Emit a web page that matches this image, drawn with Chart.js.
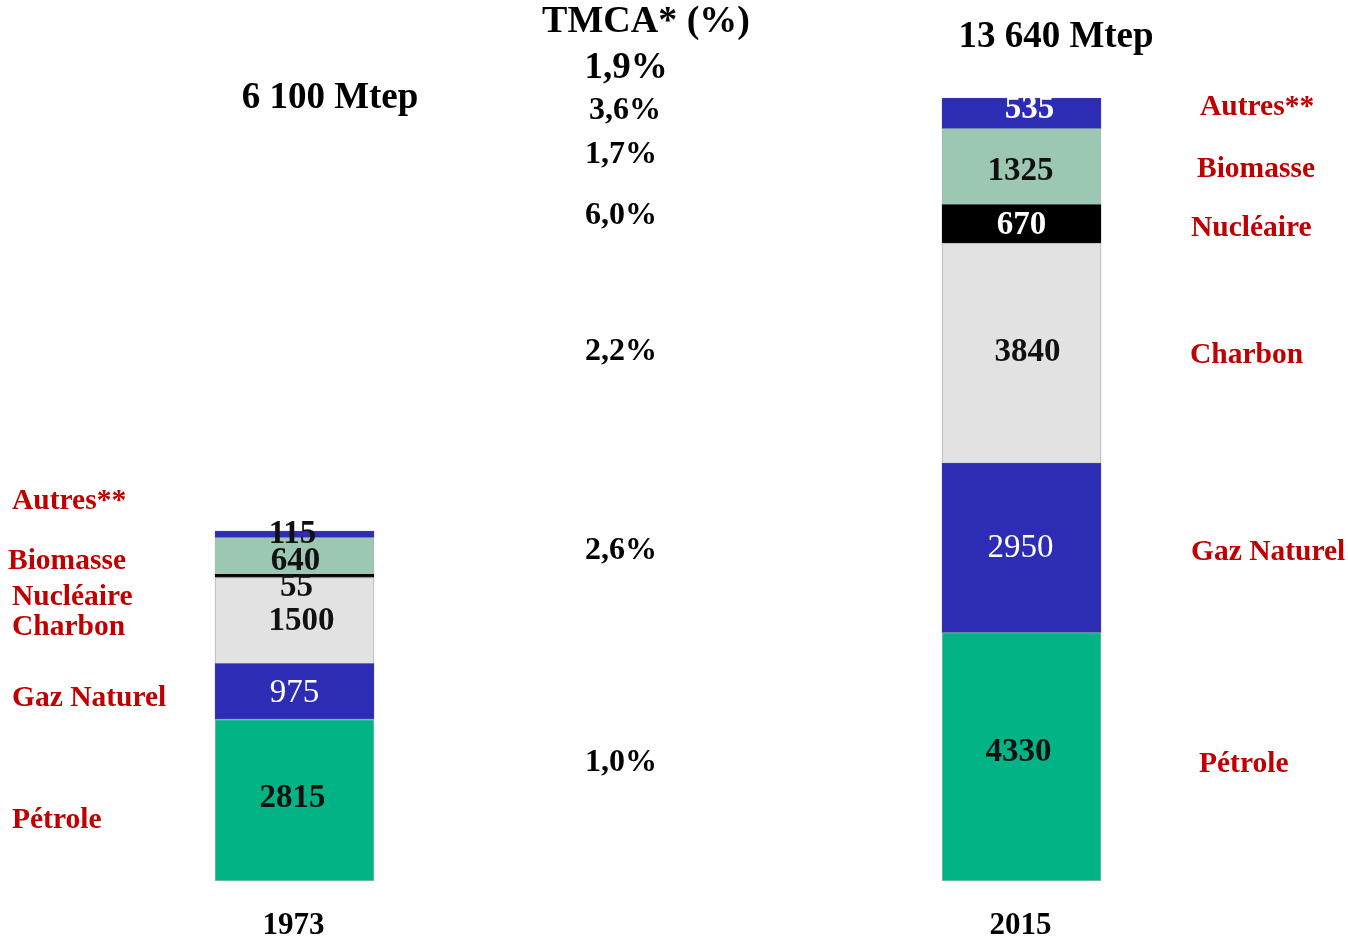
<!DOCTYPE html>
<html lang="fr">
<head>
<meta charset="utf-8">
<title>Consommation mondiale d'énergie primaire 1973 – 2015</title>
<script src="https://cdn.jsdelivr.net/npm/chart.js@4/dist/chart.umd.min.js"></script>
<style>
  html, body { margin: 0; padding: 0; background: #ffffff; }
  #wrap { position: relative; width: 1348px; height: 941px; }
</style>
</head>
<body>
<div id="wrap"><canvas id="chart"></canvas></div>
<script>
// Years (one stacked bar each)
const years = ['1973', '2015'];

// Energy sources, bottom to top of the stack
const sources = ['Pétrole', 'Gaz Naturel', 'Charbon', 'Nucléaire', 'Biomasse', 'Autres**'];

// Consumption in Mtep, per source: [1973, 2015]
const petrole   = [2815, 4330];
const gaz       = [975, 2950];
const charbon   = [1500, 3840];
const nucleaire = [55, 670];
const biomasse  = [640, 1325];
const autres    = [115, 535];

// Totals shown above each bar
const totals = ['6 100 Mtep', '13 640 Mtep'];

// Compound annual growth rate 1973-2015, per source, and overall
const tmcaTitle = 'TMCA* (%)';
const tmcaTotal = '1,9%';
const tmca = ['1,0%', '2,6%', '2,2%', '6,0%', '1,7%', '3,6%'];

const series = [petrole, gaz, charbon, nucleaire, biomasse, autres];

// Styling per source
const fills   = ['#02b386', '#2c2cb4', '#e2e2e2', '#000000', '#9cc8b3', '#2c2cb4'];
const borders = ['#8fb8a8', '#3a3ab0', '#b4b4b4', '#000000', '#a8bdb2', '#3a3ab0'];
// label style inside bars: [colour, weight] per source, per year
const valueStyle = [
  [['#111', 'bold'], ['#111', 'bold']],
  [['#fff', 'normal'], ['#fff', 'normal']],
  [['#111', 'bold'], ['#111', 'bold']],
  [['#111', 'bold'], ['#fff', 'bold']],
  [['#111', 'bold'], ['#111', 'bold']],
  [['#111', 'bold'], ['#fff', 'bold']]
];
// small nudges of the in-bar numbers [dx, dy], per source, per year
const valueNudge = [
  [[-2, -2], [-3, -4]],
  [[0, 2], [-1, 0]],
  [[7, 1], [6, -1]],
  [[2, 12], [0, 2]],
  [[1, 5], [-1, 5]],
  [[-2, 0], [8, -4]]
];
// vertical nudges of the source names next to each bar
const leftNameNudge  = [20, 7, 7, 21.5, 5.5, -33.5];
const leftNameX      = [12, 12, 12, 12, 8, 12];
const rightNameNudge = [8, 4.5, 2, 4.5, 2.5, -6];
const rightNameX     = [1199, 1191, 1190, 1191, 1197, 1200];
const tmcaNudge      = [6, 2.5, -2, -8.5, -11.5, -3];

const SERIF = '"Liberation Serif", "Times New Roman", serif';
const RED = '#c00000';

const textPlugin = {
  id: 'energyText',
  afterDatasetsDraw(chart) {
    const ctx = chart.ctx;
    const xs = chart.scales.x;
    ctx.save();
    ctx.textBaseline = 'middle';

    // numbers inside the segments
    series.forEach((vals, i) => {
      const meta = chart.getDatasetMeta(i);
      meta.data.forEach((bar, j) => {
        const [color, weight] = valueStyle[i][j];
        const [dx, dy] = valueNudge[i][j];
        ctx.fillStyle = color;
        ctx.font = weight + ' 33px ' + SERIF;
        ctx.textAlign = 'center';
        const cy = (bar.y + bar.base) / 2;
        ctx.fillText(String(vals[j]), bar.x + dx, cy + dy);
      });
    });

    // source names left of 1973 and right of 2015
    ctx.fillStyle = RED;
    ctx.font = 'bold 29.5px ' + SERIF;
    ctx.textAlign = 'left';
    series.forEach((vals, i) => {
      const meta = chart.getDatasetMeta(i);
      const b0 = meta.data[0], b1 = meta.data[1];
      ctx.fillText(sources[i], leftNameX[i], (b0.y + b0.base) / 2 + leftNameNudge[i]);
      ctx.fillText(sources[i], rightNameX[i], (b1.y + b1.base) / 2 + rightNameNudge[i]);
    });

    // growth-rate column, aligned with the 2015 segments
    ctx.fillStyle = '#000';
    ctx.textAlign = 'center';
    ctx.font = 'bold 32px ' + SERIF;
    series.forEach((vals, i) => {
      const b1 = chart.getDatasetMeta(i).data[1];
      const cx = i === series.length - 1 ? 625 : 621;
      ctx.fillText(tmca[i], cx, (b1.y + b1.base) / 2 + tmcaNudge[i]);
    });
    ctx.font = 'bold 37px ' + SERIF;
    ctx.fillText(tmcaTotal, 626, 68);
    ctx.font = 'bold 38px ' + SERIF;
    ctx.fillText(tmcaTitle, 646, 22);

    // totals
    ctx.font = 'bold 37px ' + SERIF;
    ctx.fillText(totals[0], 330, 98);
    ctx.fillText(totals[1], 1056, 37);

    // year labels under the bars
    ctx.font = 'bold 31px ' + SERIF;
    years.forEach((y, j) => {
      ctx.fillText(y, xs.getPixelForValue(j) - 1, 926);
    });
    ctx.restore();
  }
};

const datasets = series.map((vals, i) => ({
  label: sources[i],
  data: vals.map((v, j) => ({ x: j, y: v })),
  backgroundColor: fills[i],
  borderColor: borders[i],
  borderWidth: 1,
  borderSkipped: false,
  barThickness: 159
}));

new Chart(document.getElementById('chart'), {
  type: 'bar',
  data: { datasets },
  plugins: [textPlugin],
  options: {
    responsive: true,
    maintainAspectRatio: false,
    animation: false,
    layout: { padding: { top: 0, bottom: 60, left: 0, right: 0 } },
    plugins: { legend: { display: false }, tooltip: { enabled: false } },
    scales: {
      x: { type: 'linear', display: false, stacked: true, offset: false, min: -0.4051, max: 1.4491 },
      y: { display: false, stacked: true, min: 0, max: 15358 }
    }
  }
});
</script>
</body>
</html>
